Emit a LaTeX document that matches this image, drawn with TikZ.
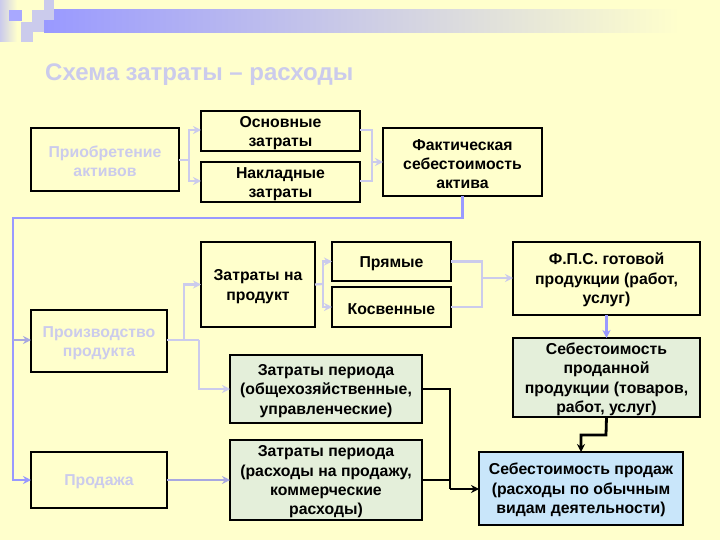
\documentclass[tikz,border=0pt]{standalone}
\usepackage{fontspec}
\setmainfont{Liberation Sans}
\usetikzlibrary{arrows.meta,shadings}
\definecolor{bg}{HTML}{FFFFCC}
\definecolor{lav}{HTML}{9999FF}
\definecolor{pale}{HTML}{CBCBEC}
\definecolor{mid}{HTML}{A8A8E0}
\definecolor{greenf}{HTML}{E4EFDA}
\definecolor{bluef}{HTML}{C9E6FA}
\tikzset{
 box/.style={draw=black,line width=2pt,outer sep=0pt,fill=bg,align=center,inner sep=0pt,anchor=north west,font=\bfseries\fontsize{15.8}{19.4}\selectfont,text=black,minimum width=#1},
 palebox/.style={text=pale},
 greenbox/.style={fill=greenf},
 bluebox/.style={fill=bluef},
 thin link/.style={draw=pale,line width=2.2pt},
 tipped/.style={-{Stealth[length=8pt,width=8pt]}},
 mid link/.style={draw=mid,line width=2.4pt},
 lav link/.style={draw=lav,line width=2.4pt},
 strong link/.style={draw=black,line width=2.8pt},
}
\newcommand{\bxnode}[6][]{\node[box=#4 pt,minimum height=#5 pt,#1] (#2) at (#3) {\rule{0pt}{15pt}#6};}
\begin{document}
\begin{tikzpicture}[x=1pt,y=-1pt]
\useasboundingbox (0,0) rectangle (720,540);
\fill[bg] (0,0) rectangle (720,540);
% top decoration
\shade[left color=lav,middle color=lav!35!white,right color=bg] (44,10) rectangle (680,33);
\shade[left color=pale,right color=bg] (0,0) rectangle (17,42);
\fill[lav!85!white] (9,10) rectangle (22,21);
\fill[pale] (32,10) rectangle (44,32);
\fill[pale] (44,0) rectangle (54,20);
\fill[pale] (21,22) rectangle (33,42);
\node[anchor=west,font=\bfseries\fontsize{24}{28}\selectfont,text=pale,inner sep=0pt] (title) at (45,75) {Схема затраты – расходы};
% boxes
\bxnode[palebox]{acq}{31,128}{148}{63}{Приобретение\\активов}
\bxnode{osn}{201,111}{159}{40}{Основные\\затраты}
\bxnode{nak}{201,162}{159}{40}{Накладные\\затраты}
\bxnode{fact}{383,128}{159}{68}{Фактическая\\себестоимость\\актива}
\bxnode{prod}{201,242}{114}{85}{Затраты на\\продукт}
\bxnode{pry}{332,242}{119}{39}{Прямые}
\bxnode{kos}{332,287}{119}{40}{Косвенные}
\bxnode{fps}{513,242}{187}{73}{Ф.П.С. готовой\\продукции (работ,\\услуг)}
\bxnode[greenbox]{sold}{513,338}{187}{79}{Себестоимость\\проданной\\продукции (товаров,\\работ, услуг)}
\bxnode[bluebox]{cost}{479,452}{204}{73}{Себестоимость продаж\\(расходы по обычным\\видам деятельности)}
\bxnode[palebox]{make}{31,310}{136}{62}{Производство\\продукта}
\bxnode[palebox]{sale}{31,452}{136}{56}{Продажа}
\bxnode[greenbox]{per1}{230,355}{192}{68}{Затраты периода\\(общехозяйственные,\\управленческие)}
\bxnode[greenbox]{per2}{230,440}{192}{80}{Затраты периода\\(расходы на продажу,\\коммерческие\\расходы)}
% connector joints
\coordinate (j1) at (189,160);
\coordinate (j2) at (372,162);
\coordinate (j3) at (13,218);
\coordinate (j4) at (13,340);
\coordinate (j5) at (184,340);
\coordinate (j6) at (199,340);
\coordinate (j7) at (323,284);
\coordinate (j8) at (482,278);
\coordinate (j9) at (450,489);
\coordinate (j10) at (606,435);
\coordinate (j11) at (581,435);
\coordinate (y130) at (0,130);
\coordinate (y181) at (0,181);
\coordinate (y480) at (0,480);
% pale links
\draw[thin link] (acq.east |- j1) -- (j1);
\draw[thin link,tipped] (j1) |- (osn.west |- y130);
\draw[thin link,tipped] (j1) |- (nak.west |- y181);
\draw[thin link] (osn.east |- y130) -| (j2);
\draw[thin link] (nak.east |- y181) -| (j2);
\draw[thin link,tipped] (j2) -- (fact.west |- j2);
\draw[thin link] (make.east |- j5) -- (j6);
\draw[thin link,tipped] (j5) |- (prod.west);
\draw[thin link,tipped] (j6) |- (per1.west);
\draw[thin link] (prod.east) -- (j7);
\draw[thin link,tipped] (j7) |- (pry.west);
\draw[thin link,tipped] (j7) |- (kos.west);
\draw[thin link] (pry.east) -| (j8);
\draw[thin link] (kos.east) -| (j8);
\draw[thin link,tipped] (j8) -- (fps.west |- j8);
% lavender links
\draw[lav link] (fact.south) |- (j3) -- (j4);
\draw[lav link,tipped] (j4) |- (sale.west |- y480);
\draw[mid link,tipped] (j4) -- (make.west |- j4);
\draw[mid link,tipped] (sale.east |- y480) -- (per2.west |- y480);
\draw[lav link,tipped] (fps.south) -- (sold.north);
% black links
\draw[strong link,tipped] (sold.south) -- (j10) -- (j11) -- (j11 |- cost.north);
\draw[strong link] (per1.east) -| (j9);
\draw[black,line width=1.8pt] (per2.east |- y480) -- (j9 |- y480);
\draw[strong link,tipped] (j9) -- (cost.west |- j9);
\end{tikzpicture}
\end{document}
